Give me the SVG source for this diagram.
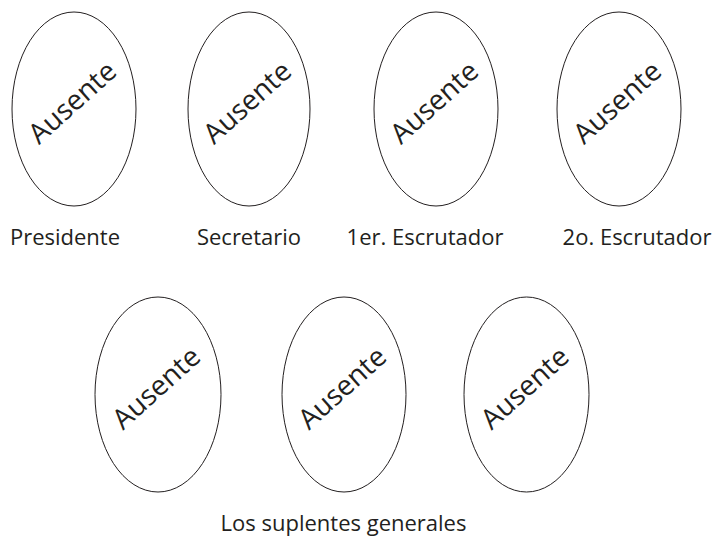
<svg xmlns="http://www.w3.org/2000/svg" width="718" height="537" viewBox="0 0 718 537">
<style>
  .oval { fill: #ffffff; stroke: #231f20; stroke-width: 1; }
  .aus { font-family: "Open Sans", "Noto Sans", sans-serif; font-size: 28px; fill: #231f20; text-anchor: middle; }
  .lbl { font-family: "Open Sans", "Noto Sans", sans-serif; font-size: 22px; fill: #231f20; text-anchor: middle; }
</style>
<rect width="718" height="537" fill="#ffffff"/>
<g id="presidente">
  <ellipse class="oval" cx="74" cy="109" rx="62" ry="97"/>
  <text class="aus" transform="translate(72,102) rotate(-42)" x="0" y="10">Ausente</text>
  <text class="lbl" x="65" y="245">Presidente</text>
</g>
<g id="secretario">
  <ellipse class="oval" cx="249" cy="109" rx="61" ry="97"/>
  <text class="aus" transform="translate(247,102) rotate(-42)" x="0" y="10">Ausente</text>
  <text class="lbl" x="249" y="245">Secretario</text>
</g>
<g id="escrutador1">
  <ellipse class="oval" cx="436" cy="109" rx="62" ry="97"/>
  <text class="aus" transform="translate(434,102) rotate(-42)" x="0" y="10">Ausente</text>
  <text class="lbl" x="425" y="245">1er. Escrutador</text>
</g>
<g id="escrutador2">
  <ellipse class="oval" cx="619" cy="109" rx="62" ry="97"/>
  <text class="aus" transform="translate(617,102) rotate(-42)" x="0" y="10">Ausente</text>
  <text class="lbl" x="637" y="245">2o. Escrutador</text>
</g>
<g id="suplente1">
  <ellipse class="oval" cx="158" cy="394.5" rx="63" ry="97.5"/>
  <text class="aus" transform="translate(156,387.5) rotate(-42)" x="0" y="10">Ausente</text>
</g>
<g id="suplente2">
  <ellipse class="oval" cx="344" cy="394.5" rx="62" ry="97.5"/>
  <text class="aus" transform="translate(342,387.5) rotate(-42)" x="0" y="10">Ausente</text>
</g>
<g id="suplente3">
  <ellipse class="oval" cx="526.5" cy="394.5" rx="62.5" ry="97.5"/>
  <text class="aus" transform="translate(524.5,387.5) rotate(-42)" x="0" y="10">Ausente</text>
</g>
<g id="suplentes-label">
  <text class="lbl" x="343.5" y="531">Los suplentes generales</text>
</g>
<g id="connectors"></g>
</svg>
